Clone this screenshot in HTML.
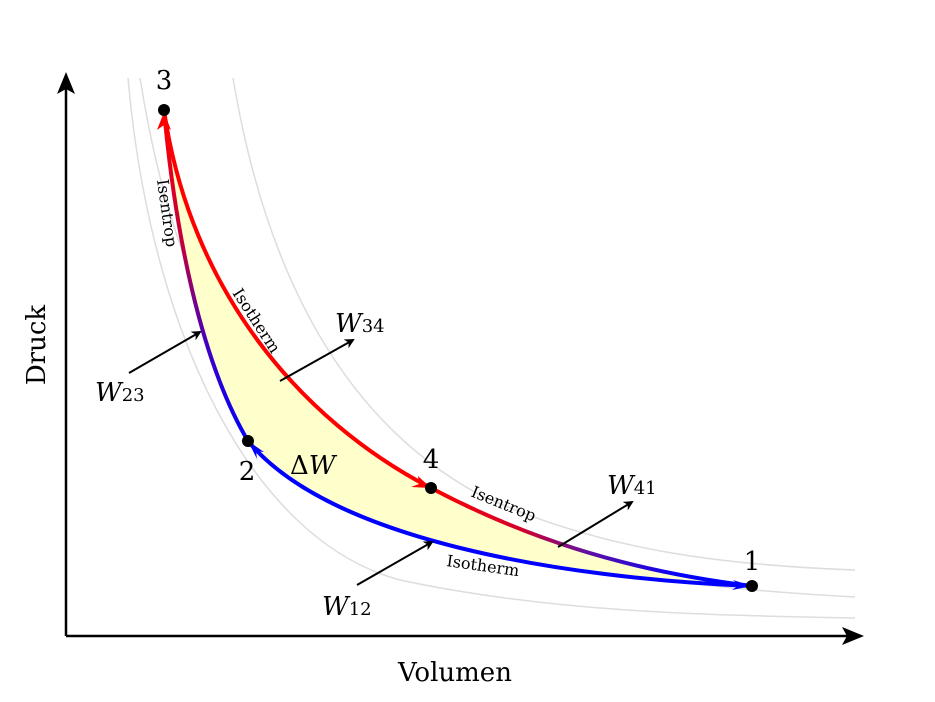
<!DOCTYPE html>
<html><head><style>body{margin:0;background:#fff}svg{display:block}text{font-family:"DejaVu Serif","Liberation Serif",serif;fill:#000}</style></head><body>
<svg width="935" height="702" viewBox="0 0 935 702">
<defs>
<marker id="ak" markerWidth="10" markerHeight="10" refX="8" refY="5" orient="auto" markerUnits="userSpaceOnUse"><path d="M0,0 L10,5 L0,10 L3,5z" fill="#000"/></marker>
<linearGradient id="g1" x1="248" y1="441" x2="164" y2="110" gradientUnits="userSpaceOnUse"><stop offset="0" stop-color="#00f"/><stop offset="0.3" stop-color="#4000c0"/><stop offset="0.6" stop-color="#c00040"/><stop offset="1" stop-color="#f00"/></linearGradient>
<linearGradient id="g2" x1="431" y1="488" x2="752" y2="586" gradientUnits="userSpaceOnUse"><stop offset="0" stop-color="#f00"/><stop offset="0.3" stop-color="#d00030"/><stop offset="0.5" stop-color="#6010a0"/><stop offset="0.8" stop-color="#00f"/><stop offset="1" stop-color="#00f"/></linearGradient>
</defs>
<g fill="none" stroke="#ddd" stroke-width="1.5">
<path d="M128,78 C150,330 250,540 400,580 C550,612 700,615 855,618"/>
<path d="M140,78 C180,330 280,480 430,530 C580,575 720,590 855,597"/>
<path d="M233,78 C270,300 360,430 480,495 C600,550 720,565 855,570"/>
</g>
<path d="M164,110 C190,290 300,420 431,488 C520,535 620,570 752,586 C560,578 330,540 248,441 C200,360 175,230 164,110Z" fill="#ffffcc"/>
<path d="M164,110 C190,290 300,420 431,488" fill="none" stroke="#f00" stroke-width="4"/>
<path d="M431,488 C520,535 620,570 752,586" fill="none" stroke="url(#g2)" stroke-width="4"/>
<path d="M752,586 C560,578 330,540 248,441" fill="none" stroke="#00f" stroke-width="4"/>
<path d="M248,441 C200,360 175,230 164,110" fill="none" stroke="url(#g1)" stroke-width="4"/>
<path d="M164,112 l-7,18 l7,-5 l7,5z" fill="#f00"/>
<path d="M431,488 l-20,-1 l8,-3 l-1,-8z" fill="#f00"/>
<path d="M752,586 l-19,-6 l6,5 l-7,5z" fill="#00f"/>
<path d="M248,441 l9,18 l-1,-8 l8,1z" fill="#00f"/>
<g fill="#000"><circle cx="164" cy="110" r="6"/><circle cx="248" cy="441" r="6"/><circle cx="431" cy="488" r="6"/><circle cx="752" cy="586" r="6"/></g>
<g stroke="#000" stroke-width="2.5" fill="none">
<path d="M66,636 V80" marker-end="url(#ak)"/>
<path d="M66,636 H858" marker-end="url(#ak)"/>
</g>
<path d="M66,72 l-9,22 l9,-5 l9,5z" fill="#000"/>
<path d="M864,636 l-22,-9 l5,9 l-5,9z" fill="#000"/>
<g stroke="#000" stroke-width="2" fill="none">
<path d="M129,373 L200,332" marker-end="url(#ak)"/>
<path d="M280,381 L353,340" marker-end="url(#ak)"/>
<path d="M357,585 L432,542" marker-end="url(#ak)"/>
<path d="M558,547 L632,502" marker-end="url(#ak)"/>
</g>
<g font-size="26" text-anchor="middle">
<text x="164" y="89">3</text><text x="247" y="480">2</text><text x="431" y="468">4</text><text x="752" y="570">1</text>
<text x="455" y="681">Volumen</text>
<text transform="translate(45,345) rotate(-90)">Druck</text>
</g>
<g font-size="26" font-style="italic">
<text x="95" y="401">W<tspan font-size="18" font-style="normal">23</tspan></text>
<text x="335" y="332">W<tspan font-size="18" font-style="normal">34</tspan></text>
<text x="607" y="494">W<tspan font-size="18" font-style="normal">41</tspan></text>
<text x="322" y="615">W<tspan font-size="18" font-style="normal">12</tspan></text>
<text x="290" y="474"><tspan font-style="normal">Δ</tspan>W</text>
</g>
<g font-size="16">
<text transform="translate(157,180) rotate(82)">Isentrop</text>
<text transform="translate(232,293) rotate(57)">Isotherm</text>
<text transform="translate(470,496) rotate(22)">Isentrop</text>
<text transform="translate(446,566) rotate(8)">Isotherm</text>
</g>
</svg>
</body></html>
